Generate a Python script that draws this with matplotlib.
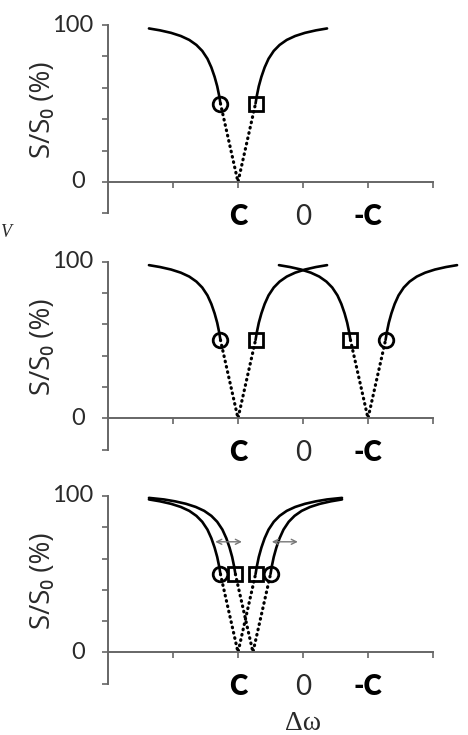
import matplotlib
matplotlib.use('Agg')
import matplotlib.pyplot as plt

plt.rcParams['font.family'] = ['Lato', 'DejaVu Sans']

# dip profile: offset from dip centre vs. signal (%)
dip_dx = [0.27, 0.29, 0.32, 0.36, 0.41, 0.47, 0.55, 0.64, 0.75, 0.88, 1.03, 1.20, 1.37, 1.60]
dip_y = [50, 55, 61, 67, 73, 78.5, 83.5, 87.3, 90.5, 93, 95, 96.6, 97.8, 98.8]

# x axis (frequency offset) labels
xtick_pos = [-1, 0, 1]
xtick_lab = ['C', '0', '-C']
xtick_bold = [True, False, True]

# per panel: dips as (centre, marker left, marker right, points used left, points used right)
panels = [
    [(-1.0, 'o', 's', 13, 13)],
    [(-1.0, 'o', 's', 13, 13), (1.0, 's', 'o', 13, 13)],
    [(-1.0, 'o', 's', 13, 14), (-0.77, 's', 'o', 14, 13)],
]

# arrows in the last panel (x start, x end, y)
arrows = [(-1.35, -0.94, 70.7), (-0.48, -0.08, 70.7)]

# pixel layout of the three panels: (y of 100 %, y of 0 %)
W, H = 468, 735
panel_px = [(25, 182), (261.7, 418.3), (496, 652.3)]
x0_px, unit_px = 108, 65.0

fig = plt.figure(figsize=(W / 100, H / 100), dpi=100)

axis_col = '#666666'
text_col = '#2a2a2a'

for k, (y100, y0) in enumerate(panel_px):
    ppy = (y0 - y100) / 100.0
    top_px = y100 - 12
    bot_px = y0 + 20 * ppy + 2
    ax = fig.add_axes([x0_px / W, 1 - bot_px / H, (W - x0_px) / W, (bot_px - top_px) / H])
    ax.set_xlim(-3, -3 + (W - x0_px) / unit_px)
    ax.set_ylim(-(bot_px - y0) / ppy, 100 + (y100 - top_px) / ppy)
    ax.patch.set_alpha(0)
    for s in ['top', 'right']:
        ax.spines[s].set_visible(False)
    ax.spines['left'].set_bounds(-20, 100)
    ax.spines['bottom'].set_bounds(-3, 2)
    ax.spines['bottom'].set_position(('data', 0))
    for s in ['left', 'bottom']:
        ax.spines[s].set_color(axis_col)
        ax.spines[s].set_linewidth(1.4)
    ax.set_yticks([-20, 0, 20, 40, 60, 80, 100])
    ax.set_xticks([-2, -1, 0, 1, 2])
    ax.set_yticklabels([])
    ax.set_xticklabels([])
    ax.tick_params(axis='both', direction='out', length=4.5, width=1.2, color=axis_col)

    # y tick labels
    ax.text(-3.22, 100, '100', ha='right', va='center', fontsize=17, color=text_col)
    ax.text(-3.35, 0, '0', ha='right', va='center', fontsize=17, color=text_col)
    # y label
    ax.text(-4.0, 46, 'S/S\u2080 (%)', rotation=90, ha='center', va='center',
            fontsize=20, color=text_col, family=['Open Sans', 'DejaVu Sans'])
    # x tick labels
    for xp, lab, b in zip(xtick_pos, xtick_lab, xtick_bold):
        ax.text(xp, -(35 / ppy), lab, ha='center', va='center', fontsize=20,
                fontweight='heavy' if b else 'normal', color='black' if b else text_col)

    for c, mk_l, mk_r, nl, nr in panels[k]:
        # solid upper branches
        xl = [c - d for d in dip_dx[:nl]]
        xr = [c + d for d in dip_dx[:nr]]
        ax.plot(xl, dip_y[:nl], color='black', lw=1.9, solid_capstyle='round')
        ax.plot(xr, dip_y[:nr], color='black', lw=1.9, solid_capstyle='round')
        # dotted part below half maximum
        ax.plot([c - dip_dx[0], c, c + dip_dx[0]], [dip_y[0], 0, dip_y[0]],
                color='black', lw=2.3, linestyle=(0, (0.2, 1.5)), dash_capstyle='round')
        ax.plot([c - dip_dx[0]], [dip_y[0]], marker=mk_l, ms=10.5, mfc='none',
                mec='black', mew=2.0)
        ax.plot([c + dip_dx[0]], [dip_y[0]], marker=mk_r, ms=10.5, mfc='none',
                mec='black', mew=2.0)

    if k == 2:
        for xa, xb, ya in arrows:
            ax.annotate('', xy=(xb, ya), xytext=(xa, ya),
                        arrowprops=dict(arrowstyle='<->', color='#777777', lw=1.0,
                                        shrinkA=0, shrinkB=0, mutation_scale=9))

fig.text(303 / W, 1 - 730 / H, 'Δω', ha='center', va='baseline',
         fontsize=20, color=text_col, family=['Liberation Serif', 'DejaVu Serif'])

fig.text(0 / W, 1 - 233 / H, 'V', fontsize=13, style='italic',
         family=['Liberation Serif', 'DejaVu Serif'],
         ha='left', va='center', color=text_col)

fig.savefig('out.png', dpi=100)
